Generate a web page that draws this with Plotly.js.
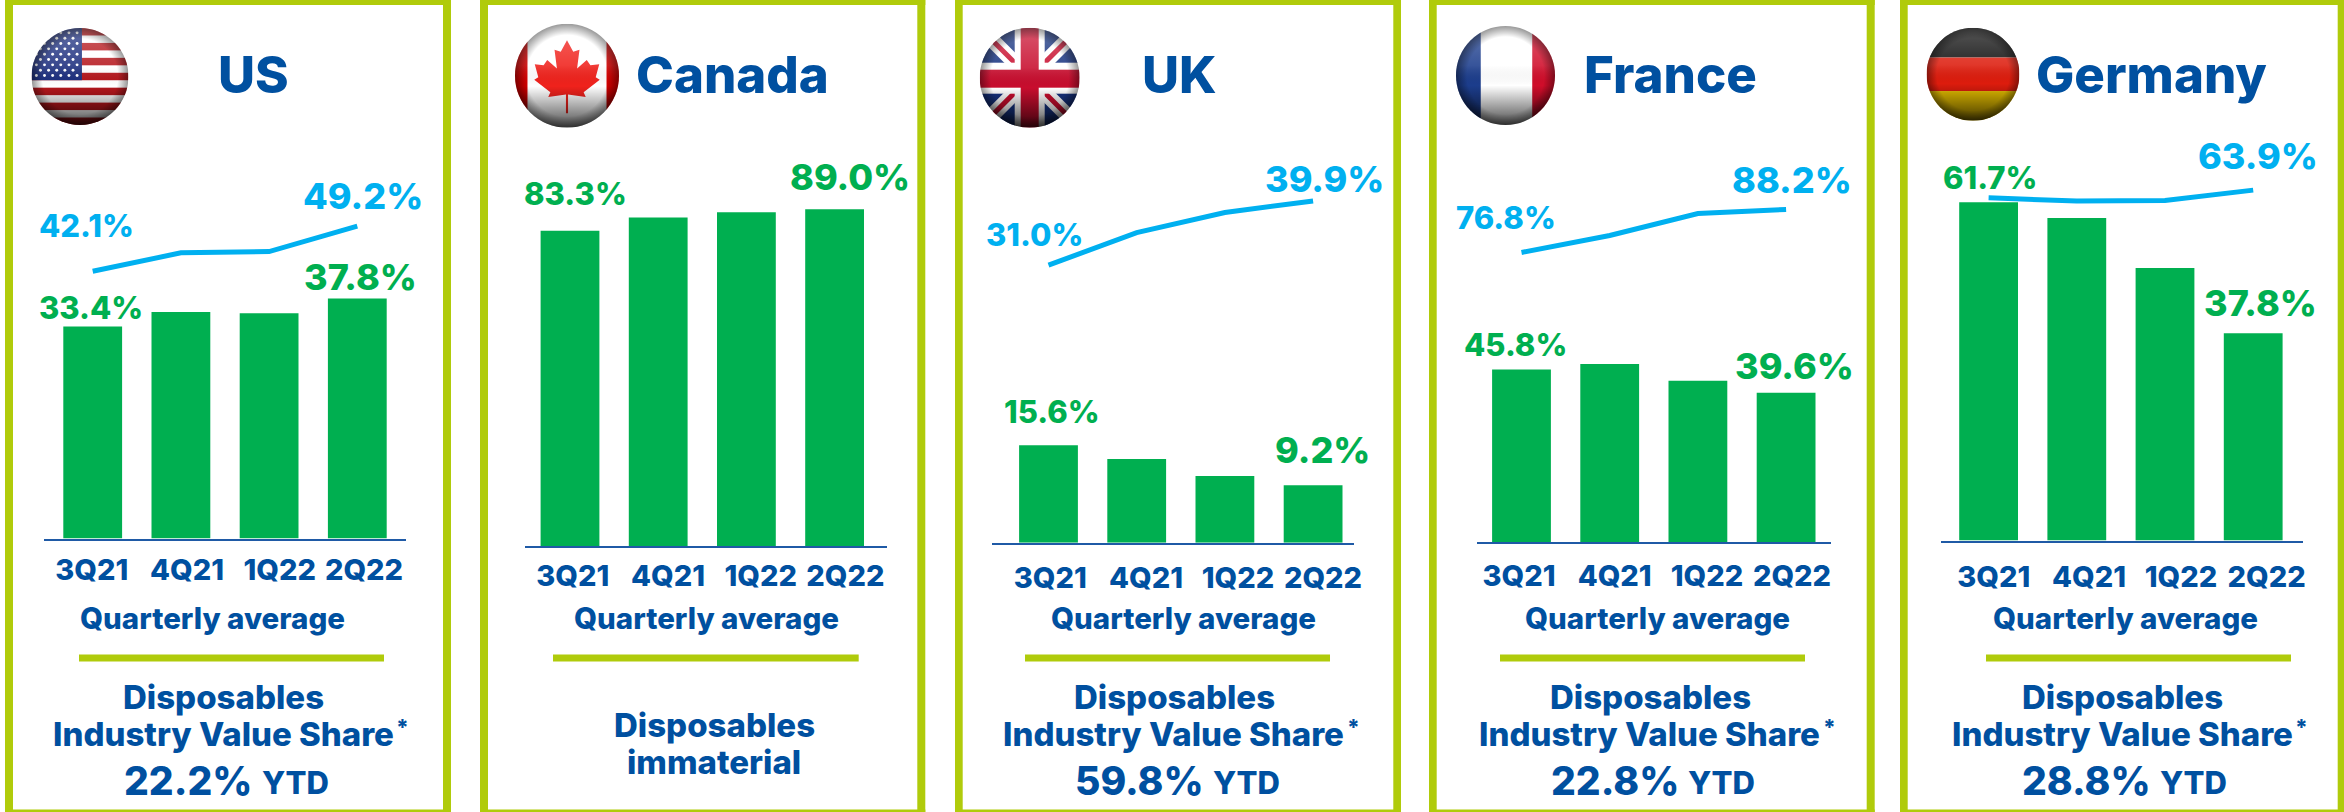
<!DOCTYPE html>
<html><head><meta charset="utf-8">
<script src="https://cdn.plot.ly/plotly-3.0.1.min.js"></script>
<style>html,body{margin:0;padding:0;background:#fff}#c{width:2344px;height:812px}</style>
</head><body><div id="c"></div>
<script>
const quarters = ['3Q21','4Q21','1Q22','2Q22'];
const countries = ['US','Canada','UK','France','Germany'];
const usBars = [33.4,35.7,35.5,37.8];
const usLine = [42.1,45.0,45.2,49.2];
const canadaBars = [83.3,86.8,88.2,89.0];
const ukBars = [15.6,13.4,10.7,9.2];
const ukLine = [31.0,35.5,38.3,39.9];
const franceBars = [45.8,47.2,42.8,39.6];
const franceLine = [76.8,81.3,87.1,88.2];
const germanyBars = [61.7,58.8,49.7,37.8];
const germanyLine = [62.5,61.9,62.0,63.9];
const ytdShare = ['22.2%',null,'59.8%','22.8%','28.8%'];
const footA = 'Disposables', footB = 'Industry Value Share', footC = 'immaterial', xNote = 'Quarterly average', ytd = 'YTD';

const W=2344,H=812;
const FONT='Inter, sans-serif', BLUE='#0050A0', GREEN='#00AF50', CYAN='#00B0F0', LIME='#B0CB0B', AXIS='#1F5AA6';
const PITCH=88.2, S={big:36,small:31,tick:29,note:29.5,foot:33,title:51,pct:39,ytd:31,star:22};

const panels=[
 {bars:usBars,line:usLine,L:[5,13],R:[443,451],ax:[44,406],c0:92.7,base:538.6,ppu:6.35,tickD:28.4,
  ticks:[91.7,187,279.7,364],note:212.5,rule:[79,384],title:253,foot:[223.7,228,227],
  labels:[['line',0,86,225,'small'],['line',3,363,196,'big'],['bars',0,90.5,307,'small'],['bars',3,361,277,'big']]},
 {bars:canadaBars,line:null,L:[480,488],R:[917.3,925.3],ax:[525,887.3],c0:570,base:546,ppu:3.785,tickD:26.8,
  ticks:[572.7,668,760.7,845.3],note:706.5,rule:[553,858.7],title:732.7,foot:[714,714],
  labels:[['bars',0,575.7,193.7,'small'],['bars',3,850,176.6,'big']]},
 {bars:ukBars,line:ukLine,lineScale:{ppu:7.21,zero:-7.5},L:[955,962.7],R:[1393.3,1401],ax:[991.7,1354],c0:1048.5,base:542.7,ppu:6.245,tickD:32,
  ticks:[1050.3,1146,1238,1323],note:1183.3,rule:[1025,1330],title:1179.5,foot:[1174.5,1178.8,1178],
  labels:[['line',0,1034,234.6,'small'],['line',3,1324,178.7,'big'],['bars',0,1051.7,411.7,'small'],['bars',3,1322,450.5,'big']]},
 {bars:franceBars,line:franceLine,L:[1429,1436.7],R:[1866.7,1874.7],ax:[1477.3,1830.7],c0:1521.5,base:542.2,ppu:3.773,tickD:31,
  ticks:[1519,1614.7,1707,1792],note:1657.7,rule:[1500,1805],title:1670.7,foot:[1650,1654.5,1653.8],
  labels:[['line',0,1506,217.5,'small'],['line',3,1791.7,179.7,'big'],['bars',0,1515.3,344.4,'small'],['bars',3,1794,366,'big']]},
 {bars:germanyBars,line:germanyLine,L:[1900,1907.7],R:[2337.7,2344],ax:[1941,2303.3],c0:1988.6,base:540.6,ppu:5.485,tickD:34,
  ticks:[1993.7,2089,2181,2266.7],note:2125.5,rule:[1986,2291],title:2151,foot:[2122.5,2127,2125.8],
  labels:[['bars',0,1990,177,'small'],['line',3,2257.8,156.4,'big'],['bars',3,2260,303,'big']]}
];
const PLOT_TOP=100;
const fx=x=>x/W, fy=y=>1-y/H;
const traces=[], shapes=[], annotations=[], images=[];
const layout={width:W,height:H,margin:{l:0,r:0,t:0,b:0},paper_bgcolor:'#fff',plot_bgcolor:'rgba(0,0,0,0)',showlegend:false,bargap:1/3,autosize:false};
const ann=(text,x,y,size,color)=>annotations.push({text,x:fx(x),y:fy(y),xref:'paper',yref:'paper',xanchor:'center',yanchor:'middle',showarrow:false,
   font:{family:FONT,size,color,weight:800},align:'center'});
const rect=(x0,y0,x1,y1,c)=>shapes.push({type:'rect',xref:'paper',yref:'paper',x0:fx(x0),x1:fx(x1),y0:fy(y0),y1:fy(y1),fillcolor:c,line:{width:0},layer:'below'});

panels.forEach((p,i)=>{
  const n=i+1, xn=n===1?'x':'x'+n, yn=n===1?'y':'y'+n, xk=n===1?'xaxis':'xaxis'+n, yk=n===1?'yaxis':'yaxis'+n;
  const dom=[fy(p.base),fy(PLOT_TOP)];
  layout[xk]={type:'category',categoryorder:'array',categoryarray:quarters,domain:[fx(p.ax[0]),fx(p.ax[1])],
    range:[(p.ax[0]-p.c0)/PITCH,(p.ax[1]-p.c0)/PITCH],anchor:yn,showgrid:false,zeroline:false,showline:true,linecolor:AXIS,linewidth:2,
    tickmode:'array',tickvals:p.ticks.map(t=>(t-p.c0)/PITCH),ticktext:quarters,ticks:'outside',tickcolor:'rgba(0,0,0,0)',ticklen:Math.max(0,p.tickD-24),tickwidth:1,
    tickangle:0,tickfont:{family:FONT,size:S.tick,color:BLUE,weight:800},fixedrange:true};
  layout[yk]={domain:dom,range:[0,(p.base-PLOT_TOP)/p.ppu],anchor:xn,visible:false,fixedrange:true};
  traces.push({type:'bar',x:quarters,y:p.bars,xaxis:xn,yaxis:yn,marker:{color:GREEN,line:{width:0}},name:countries[i]+' share',cliponaxis:false});
  if(p.line){
    let ly=yn;
    if(p.lineScale){
      ly='y6';
      layout.yaxis6={overlaying:yn,anchor:xn,range:[p.lineScale.zero,p.lineScale.zero+(p.base-PLOT_TOP)/p.lineScale.ppu],visible:false,fixedrange:true};
    }
    traces.push({type:'scatter',mode:'lines',x:quarters,y:p.line,xaxis:xn,yaxis:ly,line:{color:CYAN,width:5,shape:'linear'},name:countries[i]+' line',cliponaxis:false});
  }
  rect(p.L[0],0,p.L[1],812,LIME); rect(p.R[0],0,p.R[1],812,LIME);
  rect(p.L[0],0,p.R[1],5,LIME); rect(p.L[0],809.5,p.R[1],812,LIME);
  rect(p.rule[0],654.6,p.rule[1],661.4,LIME);
  ann(countries[i],p.title,75,S.title,BLUE);
  ann(xNote,p.note,618,S.note,BLUE);
  p.labels.forEach(l=>{const v=p[l[0]][l[1]];ann(v.toFixed(1)+'%',l[2],l[3],S[l[4]],l[0]==='bars'?GREEN:CYAN);});
  if(ytdShare[i]){
    ann(footA,p.foot[0],696.5,S.foot,BLUE);
    ann(footB,p.foot[1]-5,734,S.foot,BLUE);
    ann('*',p.foot[1]+174.7,727,S.star,BLUE);
    ann(ytdShare[i],p.foot[2]-39,780,S.pct,BLUE);
    ann(ytd,p.foot[2]+68,782,S.ytd,BLUE);
  } else {
    ann(footA,p.foot[0],725,S.foot,BLUE);
    ann(footC,p.foot[1],762,S.foot,BLUE);
  }
});

function glossy(inner){
 return '<svg xmlns="http://www.w3.org/2000/svg" width="200" height="200" viewBox="0 0 100 100"><defs>'+
 '<clipPath id="k"><circle cx="50" cy="50" r="50"/></clipPath>'+
 '<linearGradient id="v" x1="0" y1="0" x2="0" y2="1"><stop offset="0" stop-color="#fff" stop-opacity=".3"/><stop offset=".4" stop-color="#fff" stop-opacity=".12"/><stop offset=".6" stop-color="#000" stop-opacity="0"/><stop offset="1" stop-color="#000" stop-opacity=".7"/></linearGradient>'+
 '<radialGradient id="r" cx=".5" cy=".5" r=".5"><stop offset=".78" stop-color="#000" stop-opacity="0"/><stop offset="1" stop-color="#000" stop-opacity=".4"/></radialGradient>'+
 '<filter id="b"><feGaussianBlur stdDeviation=".35"/></filter></defs>'+
 '<g clip-path="url(#k)"><g filter="url(#b)">'+inner+'</g><rect width="100" height="100" fill="url(#v)"/><rect width="100" height="100" fill="url(#r)"/></g></svg>';
}
function usFlag(){
 let s='<rect width="100" height="100" fill="#fff"/>';
 for(let k=0;k<13;k+=2) s+='<rect y="'+(k*100/13)+'" width="100" height="'+(100/13)+'" fill="#b5121b"/>';
 s+='<rect width="52" height="53.8" fill="#1c2f7e"/>';
 for(let r=0;r<9;r++) for(let c=0;c<(r%2?5:6);c++)
   s+='<circle cx="'+(5+c*8.4+(r%2?4.2:0))+'" cy="'+(5+r*5.5)+'" r="1.5" fill="#fff"/>';
 return s;
}
const leaf='50,16 56,27 62,25 59.7,43 69,35 72.5,40 81,39 77.6,51.4 81.5,54 66,66 68,70.5 51,68 51,86 49,86 49,68 32,70.5 34,66 18.5,54 22.4,51.4 19,39 27.5,40 31,35 40.3,43 38,25 44,27';
const flagSvgs=[
 usFlag(),
 '<rect width="100" height="100" fill="#fff"/><rect width="12" height="100" fill="#d40000"/><rect x="88" width="12" height="100" fill="#d40000"/><polygon points="'+leaf+'" fill="#f0201f"/>',
 '<rect width="100" height="100" fill="#16307f"/><path d="M0 0L100 100M100 0L0 100" stroke="#fff" stroke-width="15"/><path d="M0 0L100 100M100 0L0 100" stroke="#c8102e" stroke-width="5"/><rect x="35" width="30" height="100" fill="#fff"/><rect y="35" width="100" height="31" fill="#fff"/><rect x="41" width="18" height="100" fill="#c8102e"/><rect y="42" width="100" height="18" fill="#c8102e"/>',
 '<rect width="100" height="100" fill="#fff"/><rect width="25" height="100" fill="#1a3c8c"/><rect x="77" width="23" height="100" fill="#d0102c"/>',
 '<rect width="100" height="32" fill="#111"/><rect y="32" width="100" height="36" fill="#dd1f10"/><rect y="68" width="100" height="32" fill="#e8c000"/>'
];
const flagGeom=[[80,76.5,48.5],[567,75.7,52],[1029.7,77.7,50],[1505.5,75.5,49.5],[1973,74.3,46.5]];
flagSvgs.forEach((s,i)=>{const g=flagGeom[i];
 images.push({source:'data:image/svg+xml;charset=utf-8,'+encodeURIComponent(glossy(s)),xref:'paper',yref:'paper',x:fx(g[0]-g[2]),y:fy(g[1]-g[2]),sizex:2*g[2]/W,sizey:2*g[2]/H,sizing:'stretch',xanchor:'left',yanchor:'top',layer:'above'});
});
layout.shapes=shapes; layout.annotations=annotations; layout.images=images;
Plotly.newPlot('c',traces,layout,{staticPlot:true,displayModeBar:false,responsive:false});
</script></body></html>
